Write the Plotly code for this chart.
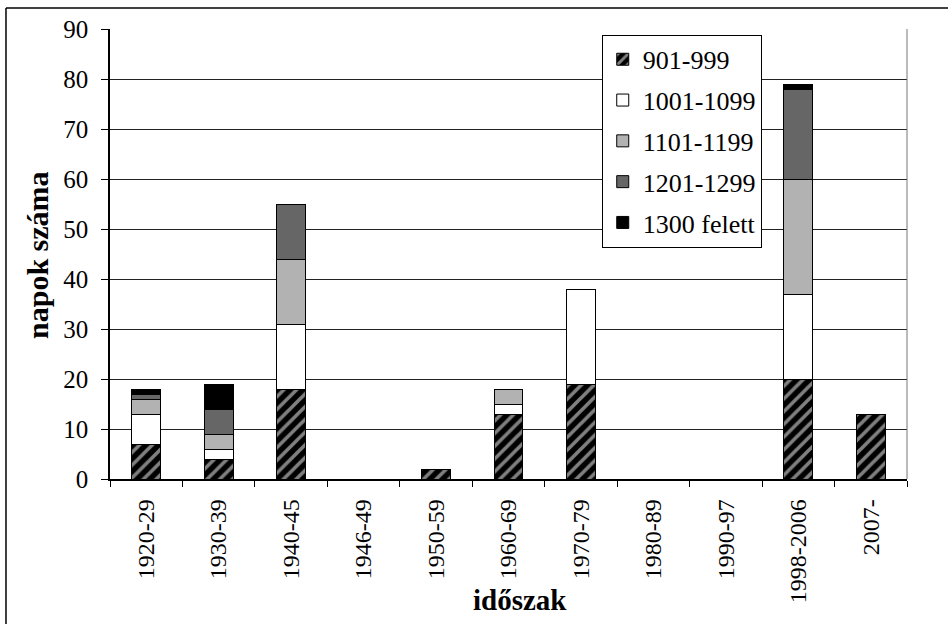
import plotly.graph_objects as go

categories = ["1920-29", "1930-39", "1940-45", "1946-49", "1950-59", "1960-69",
              "1970-79", "1980-89", "1990-97", "1998-2006", "2007-"]
s_901_999 = [7, 4, 18, 0, 2, 13, 19, 0, 0, 20, 13]
s_1001_1099 = [6, 2, 13, 0, 0, 2, 19, 0, 0, 17, 0]
s_1101_1199 = [3, 3, 13, 0, 0, 3, 0, 0, 0, 23, 0]
s_1201_1299 = [1, 5, 11, 0, 0, 0, 0, 0, 0, 18, 0]
s_1300_felett = [1, 5, 0, 0, 0, 0, 0, 0, 0, 1, 0]

series = [
    ("901-999", s_901_999, "black", dict(shape="/", fgcolor="white", bgcolor="black", size=9, solidity=0.4)),
    ("1001-1099", s_1001_1099, "white", None),
    ("1101-1199", s_1101_1199, "#b2b2b2", None),
    ("1201-1299", s_1201_1299, "#666666", None),
    ("1300 felett", s_1300_felett, "#000000", None),
]

FONT = "Liberation Serif, Times New Roman, serif"
fig = go.Figure()
for name, vals, color, pattern in series:
    marker = dict(color=color, line=dict(color="black", width=1))
    if pattern:
        marker["pattern"] = pattern
    fig.add_trace(go.Bar(x=categories, y=vals, name=name, marker=marker,
                         width=0.4, legendgroup=name))

fig.update_layout(
    barmode="stack",
    width=948, height=624,
    margin=dict(l=110, r=41, t=29, b=145, autoexpand=False),
    paper_bgcolor="white", plot_bgcolor="white",
    font=dict(family=FONT, size=24, color="black"),
    showlegend=True,
    legend=dict(x=0.617, y=0.987, xanchor="left", yanchor="top",
                bgcolor="white", bordercolor="black", borderwidth=1,
                traceorder="grouped", tracegroupgap=4, itemwidth=30,
                font=dict(family=FONT, size=26, color="black")),
    xaxis=dict(
        automargin=False,
        tickson="boundaries", ticks="outside", ticklen=6, tickcolor="black",
        showline=True, linecolor="black", linewidth=1.5,
        tickangle=-90, tickfont=dict(family=FONT, size=24, color="black"),
        ticklabelstandoff=9,
        showgrid=False,
    ),
    yaxis=dict(
        automargin=False,
        range=[0, 90], dtick=10, ticks="outside", ticklen=7, tickcolor="black",
        showline=True, linecolor="black", linewidth=1.5,
        showgrid=True, gridcolor="#222222", gridwidth=1,
        tickfont=dict(family=FONT, size=25, color="black"),
        ticklabelstandoff=8,
        zeroline=False,
    ),
    annotations=[
        dict(text="<b>időszak</b>", xref="paper", yref="paper", x=0.514, y=-0.268,
             xanchor="center", yanchor="middle", showarrow=False,
             font=dict(family=FONT, size=29, color="black")),
        dict(text="<b>napok száma</b>", xref="paper", yref="paper", x=-0.0903, y=0.498,
             xanchor="center", yanchor="middle", showarrow=False, textangle=-90,
             font=dict(family=FONT, size=30, color="black")),
    ],
    shapes=[
        dict(type="line", xref="paper", yref="paper", x0=1, x1=1,
             y0=0, y1=1, line=dict(color="#777777", width=1)),
        dict(type="line", xref="paper", yref="paper", x0=-0.1305, x1=-0.1305,
             y0=1.0467, y1=-0.33, line=dict(color="black", width=1.5)),
        dict(type="line", xref="paper", yref="paper", x0=-0.1305, x1=1.06,
             y0=1.0467, y1=1.0467, line=dict(color="black", width=1.5)),
    ],
)

fig.write_html("out.html", config={"displayModeBar": False},
               post_script="document.body.style.margin='0px';")
